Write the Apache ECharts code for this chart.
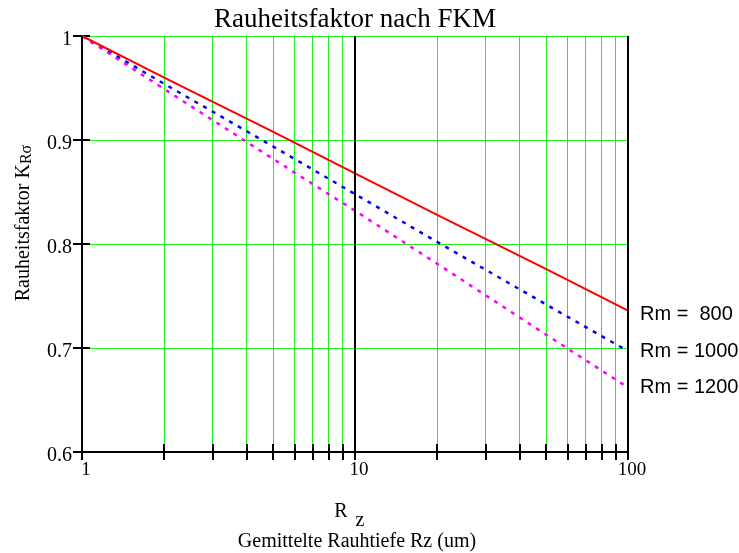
<!DOCTYPE html>
<html><head><meta charset="utf-8">
<script src="https://cdn.jsdelivr.net/npm/echarts@6/dist/echarts.min.js"></script>
<style>html,body{margin:0;padding:0;background:#fff}#c{width:739px;height:553px}</style>
</head><body><div id="c"></div>
<script>
const rz = [1, 2, 5, 10, 20, 50, 100];
const kRm800  = [1.000, 0.960, 0.908, 0.868, 0.828, 0.776, 0.736];
const kRm1000 = [1.000, 0.954, 0.894, 0.848, 0.802, 0.742, 0.697];
const kRm1200 = [1.000, 0.949, 0.882, 0.832, 0.781, 0.713, 0.662];
const seriesNames = ['Rm =  800', 'Rm = 1000', 'Rm = 1200'];
const majorTicks = [1, 10, 100];
const minorTicks = [2,3,4,5,6,7,8,9,20,30,40,50,60,70,80,90];

const serif = '"Liberation Serif","DejaVu Serif",serif';
const sans = '"Liberation Sans",Arial,sans-serif';
const pair = (xs, ys) => xs.map((x, i) => [x, ys[i]]);

const chart = echarts.init(document.getElementById('c'));
const baseX = {type:'log', logBase:10, min:1, max:100, gridIndex:0, position:'bottom'};
const baseY = {type:'value', min:0.6, max:1, interval:0.1, gridIndex:0, position:'left'};
chart.setOption({
  animation:false,
  grid:{left:82, right:111, top:36, bottom:101},
  graphic:[
    {type:'text', x:355, y:20, style:{text:'Rauheitsfaktor nach FKM', font:'27px '+serif, fill:'#000', textAlign:'center', textVerticalAlign:'middle'}},
    {type:'text', x:24, y:223, rotation:Math.PI/2, style:{text:'{a|Rauheitsfaktor K}{b|Rσ}', rich:{a:{font:'20px '+serif, fill:'#000'}, b:{font:'16px '+serif, fill:'#000', padding:[6,0,0,0]}}, textAlign:'center', textVerticalAlign:'middle'}},
    {type:'text', x:341, y:512, style:{text:'R', font:'20px '+serif, fill:'#000', textAlign:'center', textVerticalAlign:'middle'}},
    {type:'text', x:360, y:521, style:{text:'z', font:'20px '+serif, fill:'#000', textAlign:'center', textVerticalAlign:'middle'}},
    {type:'text', x:357, y:542, style:{text:'Gemittelte Rauhtiefe Rz (um)', font:'20px '+serif, fill:'#000', textAlign:'center', textVerticalAlign:'middle'}}
  ],
  xAxis:[
    Object.assign({}, baseX, {
      axisLine:{show:true, lineStyle:{color:'#000', width:2}},
      axisTick:{show:true, inside:false, length:8, lineStyle:{color:'#000', width:2}, customValues:majorTicks},
      axisLabel:{show:true, customValues:majorTicks, color:'#000', fontFamily:serif, fontSize:19, margin:9, padding:[0,0,0,8]},
      splitLine:{show:true, lineStyle:{color:'#000', width:2}},
      z:5
    }),
    Object.assign({}, baseX, {
      axisLine:{show:false},
      axisTick:{show:true, inside:true, length:8, lineStyle:{color:'#000', width:2}, customValues:minorTicks},
      axisLabel:{show:false},
      splitLine:{show:true, lineStyle:{color:'#22ee22', width:1}}
    }),
    Object.assign({}, baseX, {
      axisLine:{show:false},
      axisTick:{show:true, inside:false, length:8, lineStyle:{color:'#000', width:2}, customValues:minorTicks},
      axisLabel:{show:false},
      splitLine:{show:false}
    })
  ],
  yAxis:[
    Object.assign({}, baseY, {
      axisLine:{show:true, lineStyle:{color:'#000', width:2}},
      axisTick:{show:true, inside:false, length:9, lineStyle:{color:'#000', width:2}},
      axisLabel:{color:'#000', fontFamily:serif, fontSize:20, margin:10, verticalAlign:'top', lineHeight:20, padding:[-6,0,0,0],
        formatter: v => (Math.abs(v-1)<1e-9 ? '1' : v.toFixed(1))},
      splitLine:{show:true, lineStyle:{color:'#22ee22', width:1}}
    }),
    Object.assign({}, baseY, {
      axisLine:{show:false},
      axisTick:{show:true, inside:true, length:8, lineStyle:{color:'#000', width:2}},
      axisLabel:{show:false},
      splitLine:{show:false}
    })
  ],
  series:[
    {name:seriesNames[0], type:'line', data:pair(rz, kRm800), symbol:'none', z:4,
      lineStyle:{color:'#ff0000', width:2, type:'solid'},
      endLabel:{show:true, formatter:seriesNames[0], distance:12, offset:[0,4], color:'#000', fontFamily:sans, fontSize:20}},
    {name:seriesNames[1], type:'line', data:pair(rz, kRm1000), symbol:'none', z:3,
      lineStyle:{color:'#0000ff', width:2.5, type:[4,6]},
      endLabel:{show:true, formatter:seriesNames[1], distance:12, color:'#000', fontFamily:sans, fontSize:20}},
    {name:seriesNames[2], type:'line', data:pair(rz, kRm1200), symbol:'none', z:3,
      lineStyle:{color:'#ff00ff', width:2.5, type:[4,6]},
      endLabel:{show:true, formatter:seriesNames[2], distance:12, color:'#000', fontFamily:sans, fontSize:20}}
  ]
});
</script></body></html>
